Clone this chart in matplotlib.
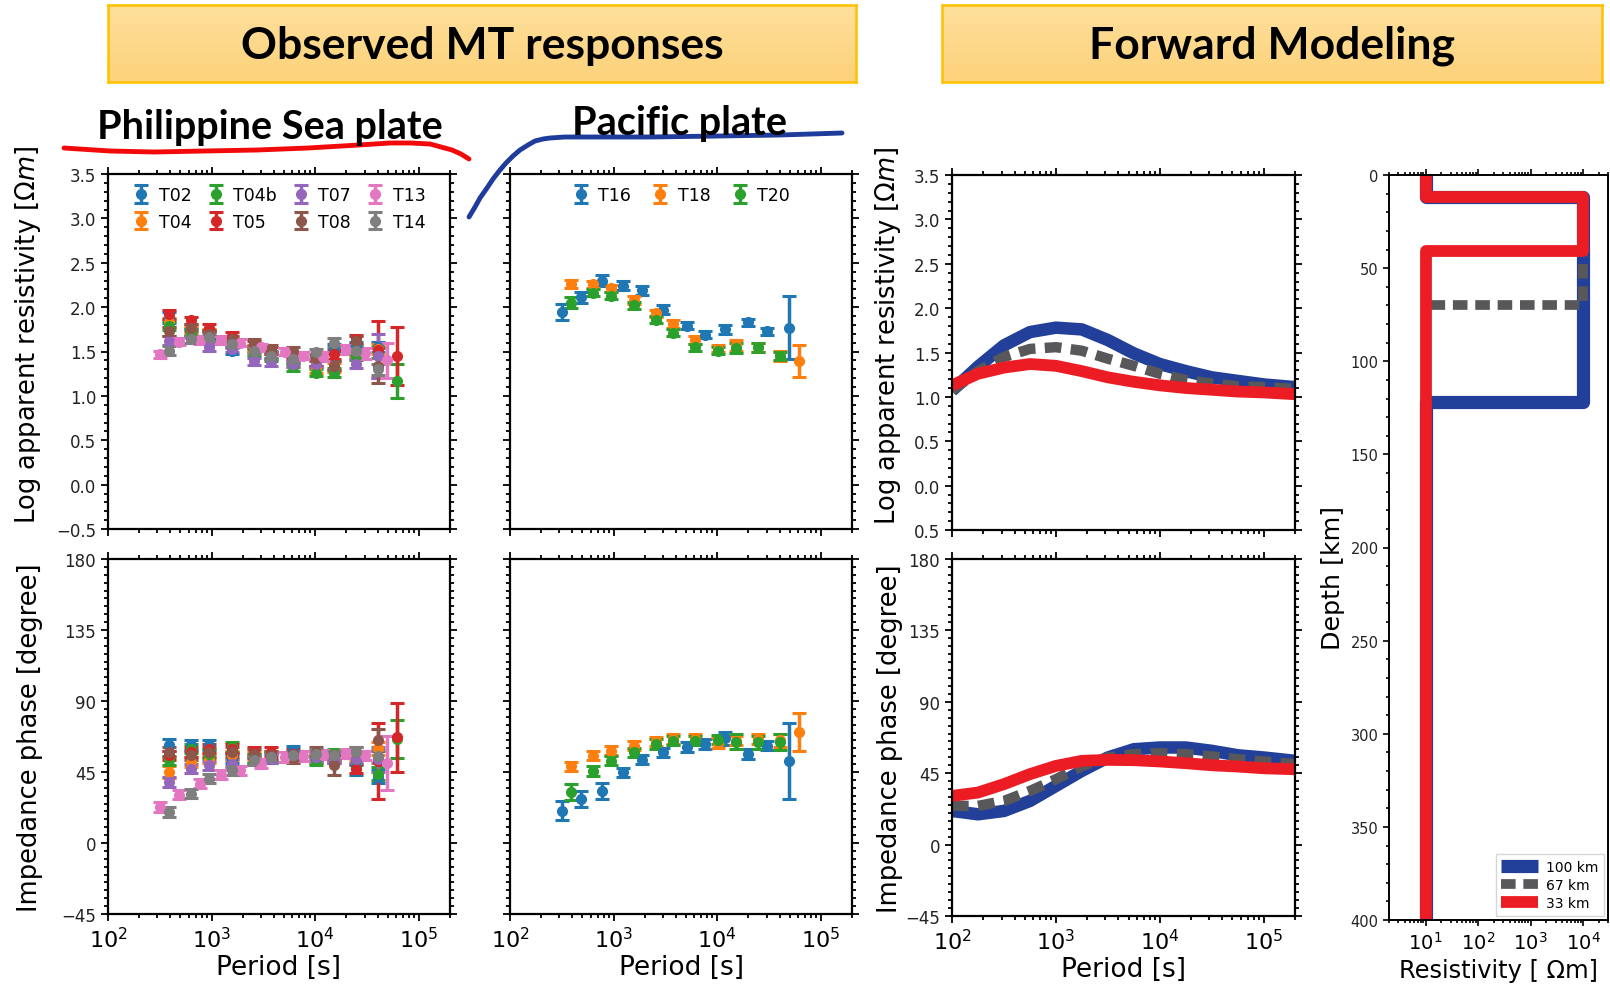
import numpy as np
import matplotlib
matplotlib.use('Agg')
import matplotlib.pyplot as plt
from matplotlib.lines import Line2D
from matplotlib.ticker import MultipleLocator, LogLocator, NullFormatter, FixedLocator, FixedFormatter

# ---- observed MT responses ----
# period sets (s)
periods_a = [316, 480, 770, 1230, 1900, 3000, 5100, 7600, 12000, 20000, 30000, 49000]
periods_b = [390, 630, 950, 1560, 2570, 3750, 6100, 10100, 15100, 24500, 40800, 62000]

psp_stations = ['T02', 'T04', 'T04b', 'T05', 'T07', 'T08', 'T13', 'T14']
psp_periods = {'T02': periods_b[:11], 'T04': periods_b[:11], 'T04b': periods_b,
               'T05': periods_b, 'T07': periods_b[:11], 'T08': periods_b[:11],
               'T13': periods_a, 'T14': periods_b[:11]}

psp_rho = {
    'T02': [1.88, 1.73, 1.68, 1.51, 1.53, 1.47, 1.41, 1.36, 1.53, 1.56, 1.55],
    'T04': [1.83, 1.75, 1.71, 1.62, 1.53, 1.45, 1.36, 1.30, 1.32, 1.49, 1.53],
    'T04b': [1.79, 1.71, 1.70, 1.60, 1.49, 1.43, 1.32, 1.26, 1.26, 1.45, 1.49, 1.17],
    'T05': [1.92, 1.85, 1.77, 1.68, 1.58, 1.51, 1.45, 1.38, 1.47, 1.64, 1.52, 1.45],
    'T07': [1.62, 1.64, 1.55, 1.53, 1.39, 1.38, 1.36, 1.36, 1.34, 1.36, 1.45],
    'T08': [1.73, 1.77, 1.70, 1.64, 1.60, 1.53, 1.51, 1.43, 1.34, 1.62, 1.34],
    'T13': [1.47, 1.61, 1.63, 1.63, 1.60, 1.55, 1.50, 1.45, 1.44, 1.52, 1.48, 1.40],
    'T14': [1.51, 1.64, 1.66, 1.58, 1.51, 1.45, 1.41, 1.49, 1.60, 1.51, 1.30],
}
psp_rho_err = {
    'T02': [0.06, 0.04, 0.04, 0.04, 0.04, 0.04, 0.04, 0.04, 0.05, 0.05, 0.06],
    'T04': [0.05, 0.04, 0.04, 0.04, 0.04, 0.04, 0.04, 0.04, 0.05, 0.05, 0.06],
    'T04b': [0.05, 0.04, 0.04, 0.04, 0.04, 0.04, 0.04, 0.04, 0.05, 0.05, 0.06, 0.19],
    'T05': [0.05, 0.04, 0.04, 0.04, 0.04, 0.04, 0.04, 0.04, 0.05, 0.05, 0.32, 0.33],
    'T07': [0.05, 0.04, 0.04, 0.04, 0.04, 0.04, 0.04, 0.04, 0.05, 0.05, 0.25],
    'T08': [0.05, 0.04, 0.04, 0.04, 0.04, 0.04, 0.04, 0.04, 0.05, 0.05, 0.20],
    'T13': [0.04, 0.04, 0.04, 0.04, 0.04, 0.04, 0.04, 0.04, 0.05, 0.05, 0.06, 0.20],
    'T14': [0.05, 0.04, 0.04, 0.04, 0.04, 0.04, 0.04, 0.04, 0.05, 0.05, 0.06],
}
psp_phase = {
    'T02': [62.0, 62.0, 62.0, 53.5, 53.5, 53.5, 58.7, 53.5, 53.5, 49.0, 42.0],
    'T04': [45.0, 51.3, 53.5, 55.6, 55.6, 54.5, 55.6, 53.5, 54.5, 55.6, 60.0],
    'T04b': [52.4, 59.8, 56.6, 60.8, 53.5, 55.6, 55.6, 52.4, 56.6, 52.4, 43.9, 66.0],
    'T05': [55.6, 57.7, 59.8, 59.8, 57.7, 57.7, 56.6, 55.6, 55.6, 47.1, 52.0, 67.0],
    'T07': [38.7, 47.1, 49.2, 50.3, 52.4, 53.5, 54.5, 54.5, 53.5, 53.5, 53.0],
    'T08': [57.7, 55.6, 57.7, 57.7, 56.6, 55.6, 53.5, 57.7, 49.2, 57.7, 65.0],
    'T13': [22.8, 30.6, 37.6, 43.3, 46.0, 50.3, 54.5, 55.1, 56.0, 56.6, 55.6, 50.9],
    'T14': [19.6, 31.3, 40.8, 46.0, 52.4, 54.5, 55.6, 56.6, 55.6, 57.7, 55.0],
}
psp_phase_err = {
    'T02': [4, 3, 3, 3, 3, 3, 3, 3, 3, 6, 4],
    'T04': [4, 3, 3, 3, 3, 3, 3, 3, 3, 3, 4],
    'T04b': [3, 3, 3, 3, 3, 3, 3, 3, 3, 3, 4, 12],
    'T05': [3, 3, 3, 3, 3, 3, 3, 3, 3, 3, 24, 22],
    'T07': [3, 3, 3, 3, 3, 3, 3, 3, 3, 3, 8],
    'T08': [3, 3, 3, 3, 3, 3, 3, 3, 6, 3, 7],
    'T13': [3, 3, 3, 3, 3, 3, 3, 3, 3, 3, 3, 17],
    'T14': [3, 3, 3, 3, 3, 3, 3, 3, 3, 3, 4],
}

pac_stations = ['T16', 'T18', 'T20']
pac_periods = {'T16': periods_a, 'T18': periods_b, 'T20': periods_b[:11]}
pac_rho = {
    'T16': [1.94, 2.11, 2.30, 2.24, 2.19, 1.97, 1.79, 1.69, 1.75, 1.83, 1.73, 1.77],
    'T18': [2.26, 2.26, 2.21, 2.08, 1.93, 1.81, 1.63, 1.53, 1.57, 1.55, 1.45, 1.39],
    'T20': [2.05, 2.16, 2.13, 2.02, 1.86, 1.71, 1.55, 1.51, 1.54, 1.55, 1.45],
}
pac_rho_err = {
    'T16': [0.09, 0.06, 0.06, 0.05, 0.05, 0.05, 0.04, 0.04, 0.05, 0.04, 0.04, 0.36],
    'T18': [0.05, 0.04, 0.04, 0.04, 0.04, 0.04, 0.04, 0.04, 0.06, 0.05, 0.06, 0.18],
    'T20': [0.06, 0.04, 0.04, 0.04, 0.04, 0.04, 0.04, 0.04, 0.06, 0.05, 0.05],
}
pac_phase = {
    'T16': [20.5, 27.9, 33.2, 44.8, 52.8, 57.5, 60.7, 62.8, 66.4, 56.4, 61.7, 52.2],
    'T18': [48.6, 55.4, 58.5, 61.7, 64.5, 65.9, 65.9, 63.4, 64.9, 65.9, 65.0, 70.6],
    'T20': [32.2, 45.5, 52.2, 57.5, 62.8, 64.9, 64.9, 65.5, 64.3, 63.8, 63.8],
}
pac_phase_err = {
    'T16': [6, 5, 5, 3, 3, 3, 3, 3, 4, 3, 3, 24],
    'T18': [3, 3, 3, 3, 3, 3, 3, 3, 3, 3, 4, 12],
    'T20': [5, 3, 3, 3, 3, 3, 3, 3, 5, 4, 5],
}

# ---- forward modeling ----
fwd_period = 10 ** np.array([2.0, 2.25, 2.5, 2.75, 3.0, 3.25, 3.5, 3.75, 4.0, 4.25, 4.5, 4.75, 5.0, 5.3])
fwd_rho_100 = [1.07, 1.34, 1.58, 1.73, 1.78, 1.76, 1.64, 1.49, 1.37, 1.29, 1.22, 1.18, 1.14, 1.11]
fwd_rho_67 = [1.07, 1.29, 1.45, 1.54, 1.56, 1.52, 1.43, 1.35, 1.26, 1.19, 1.15, 1.12, 1.11, 1.09]
fwd_rho_33 = [1.13, 1.26, 1.33, 1.37, 1.35, 1.29, 1.22, 1.17, 1.13, 1.10, 1.08, 1.06, 1.05, 1.03]
fwd_phase_100 = [21.2, 19.1, 21.2, 27.5, 37.0, 46.5, 54.9, 60.1, 61.2, 61.2, 59.1, 56.3, 54.9, 52.8]
fwd_phase_67 = [24.4, 24.4, 27.5, 33.8, 41.2, 49.6, 54.9, 57.0, 57.6, 57.0, 55.5, 53.8, 52.4, 50.7]
fwd_phase_33 = [30.7, 32.8, 38.1, 44.4, 49.6, 52.8, 53.4, 53.2, 52.4, 51.3, 50.0, 49.2, 48.1, 47.5]

# layered resistivity models: layer top depths (km) and resistivity (ohm-m)
model_tops_100 = [0, 12, 122]
model_tops_67 = [0, 12, 70]
model_tops_33 = [0, 12, 41]
model_res = [10, 1e4, 10]
model_labels = ['100 km', '67 km', '33 km']

c_blue = '#22409a'
c_gray = '#58585a'
c_red = '#ec1c24'

W, H = 1610, 987
fig = plt.figure(figsize=(W / 100, H / 100), dpi=100)


def px_axes(x0, y0, x1, y1):
    # pixel box measured from the top-left corner
    return fig.add_axes([x0 / W, 1 - y1 / H, (x1 - x0) / W, (y1 - y0) / H])


def style_axes(ax, ylim, ymajor, yminor, log_x=True):
    for s in ax.spines.values():
        s.set_linewidth(1.6)
    if log_x:
        ax.set_xscale('log')
        ax.set_xlim(1e2, 2e5)
        ax.xaxis.set_major_locator(LogLocator(base=10, numticks=10))
        ax.xaxis.set_minor_locator(LogLocator(base=10, subs=np.arange(2, 10), numticks=20))
        ax.xaxis.set_minor_formatter(NullFormatter())
    ax.set_ylim(*ylim)
    ax.yaxis.set_major_locator(MultipleLocator(ymajor))
    ax.yaxis.set_minor_locator(MultipleLocator(yminor))
    ax.tick_params(which='both', direction='out', top=True, right=True, width=1.3)
    ax.tick_params(which='major', length=5)
    ax.tick_params(which='minor', length=3)
    ax.tick_params(axis='y', labelsize=12, labelcolor='#222222')
    ax.tick_params(axis='x', labelsize=16)


eb_kw = dict(fmt='o', ms=7, capsize=5, capthick=2.2, elinewidth=2.5)

# observed, Philippine Sea plate
ax1 = px_axes(108, 175, 450, 530)
ax2 = px_axes(108, 560, 450, 915)
for i, st in enumerate(psp_stations):
    ax1.errorbar(psp_periods[st], psp_rho[st], yerr=psp_rho_err[st], color='C%d' % i, label=st, **eb_kw)
    ax2.errorbar(psp_periods[st], psp_phase[st], yerr=psp_phase_err[st], color='C%d' % i, **eb_kw)

# observed, Pacific plate
ax3 = px_axes(510, 175, 852, 530)
ax4 = px_axes(510, 560, 852, 915)
for i, st in enumerate(pac_stations):
    ax3.errorbar(pac_periods[st], pac_rho[st], yerr=pac_rho_err[st], color='C%d' % i, label=st, **eb_kw)
    ax4.errorbar(pac_periods[st], pac_phase[st], yerr=pac_phase_err[st], color='C%d' % i, **eb_kw)

for ax in (ax1, ax3):
    style_axes(ax, (-0.5, 3.5), 0.5, 0.1)
    ax.tick_params(axis='x', labelbottom=False)
for ax in (ax2, ax4):
    style_axes(ax, (-45, 180), 45, 5)
    ax.set_xlabel('Period [s]', fontsize=19)
    ax.xaxis.set_label_coords(0.5, -0.113)
for ax in (ax3, ax4):
    ax.tick_params(axis='y', labelleft=False)

ax1.set_ylabel(r'Log apparent resistivity [$\Omega m$]', fontsize=18.5)
ax1.yaxis.set_label_coords(-0.19, 0.55)
ax2.set_ylabel('Impedance phase [degree]', fontsize=18.5)
ax2.yaxis.set_label_coords(-0.19, 0.5)

ax1.legend(ncol=4, loc='upper center', frameon=False, fontsize=12.5, handlelength=1.0,
           handletextpad=0.5, columnspacing=0.9, borderaxespad=0.3, labelspacing=0.5)
ax3.legend(ncol=3, loc='upper center', frameon=False, fontsize=12.5, handlelength=1.0,
           handletextpad=0.5, columnspacing=1.2, borderaxespad=0.3)

# forward modeling responses
ax5 = px_axes(952, 176, 1295, 531)
ax6 = px_axes(952, 560, 1295, 917)
ax5.plot(fwd_period, fwd_rho_100, color=c_blue, lw=9, solid_capstyle='butt')
ax5.plot(fwd_period, fwd_rho_67, color=c_gray, lw=7.5, dashes=(1.6, 0.9))
ax5.plot(fwd_period, fwd_rho_33, color=c_red, lw=8.5, solid_capstyle='butt')
ax6.plot(fwd_period, fwd_phase_100, color=c_blue, lw=9, solid_capstyle='butt')
ax6.plot(fwd_period, fwd_phase_67, color=c_gray, lw=7.5, dashes=(1.6, 0.9))
ax6.plot(fwd_period, fwd_phase_33, color=c_red, lw=8.5, solid_capstyle='butt')

style_axes(ax5, (-0.5, 3.5), 0.5, 0.1)
ax5.tick_params(axis='x', labelbottom=False)
ax5.yaxis.set_major_locator(FixedLocator([-0.5, 0, 0.5, 1.0, 1.5, 2.0, 2.5, 3.0, 3.5]))
ax5.yaxis.set_major_formatter(FixedFormatter(['0.5', '0.0', '0.5', '1.0', '1.5', '2.0', '2.5', '3.0', '3.5']))
ax5.set_ylabel(r'Log apparent resistivity [$\Omega m$]', fontsize=18.5)
ax5.yaxis.set_label_coords(-0.143, 0.55)
style_axes(ax6, (-45, 180), 45, 5)
ax6.set_xlabel('Period [s]', fontsize=19)
ax6.xaxis.set_label_coords(0.5, -0.113)
ax6.set_ylabel('Impedance phase [degree]', fontsize=18.5)
ax6.yaxis.set_label_coords(-0.143, 0.5)

# resistivity-depth models
ax7 = px_axes(1389, 176, 1608, 921)


def step_profile(tops, res, bottom=400):
    d, r = [], []
    edges = list(tops) + [bottom]
    for k, rv in enumerate(res):
        d += [edges[k], edges[k + 1]]
        r += [rv, rv]
    return r, d


r, d = step_profile(model_tops_100, model_res)
ax7.plot(r, d, color=c_blue, lw=9.5, solid_joinstyle='round', solid_capstyle='butt', label=model_labels[0])
r, d = step_profile(model_tops_67, model_res)
ax7.plot(r, d, color=c_gray, lw=7, dashes=(1.5, 0.8), label=model_labels[1])
r, d = step_profile(model_tops_33, model_res)
ax7.plot(r, d, color=c_red, lw=8.5, solid_joinstyle='round', solid_capstyle='butt', label=model_labels[2])

ax7.set_xscale('log')
ax7.set_xlim(2, 3e4)
ax7.set_ylim(400, 0)
ax7.xaxis.set_major_locator(FixedLocator([10, 100, 1000, 10000]))
ax7.xaxis.set_minor_locator(LogLocator(base=10, subs=np.arange(2, 10), numticks=20))
ax7.xaxis.set_minor_formatter(NullFormatter())
ax7.yaxis.set_major_locator(MultipleLocator(50))
ax7.yaxis.set_minor_locator(MultipleLocator(10))
for s in ax7.spines.values():
    s.set_linewidth(1.4)
ax7.tick_params(which='both', direction='out', top=True, width=1.2)
ax7.tick_params(which='major', length=4)
ax7.tick_params(which='minor', length=2.5)
ax7.tick_params(axis='y', labelsize=10.5, labelcolor='#222222')
ax7.tick_params(axis='x', labelsize=14)
ax7.set_ylabel('Depth [km]', fontsize=18.3)
ax7.yaxis.set_label_coords(-0.2, 0.46)
ax7.set_xlabel('Resistivity [ \u03a9m]', fontsize=17.4)
ax7.xaxis.set_label_coords(0.5, -0.051)
ax7.legend(loc='lower right', fontsize=10, handlelength=2.6, handletextpad=0.6,
           borderaxespad=0.3, labelspacing=0.3, fancybox=False)

# header boxes
grad = np.linspace(0, 1, 50).reshape(-1, 1)
for (x0, x1, title) in [(108, 856, 'Observed MT responses'), (942, 1602, 'Forward Modeling')]:
    hb = px_axes(x0, 6, x1, 83)
    top = np.array([254, 223, 156]) / 255
    bot = np.array([252, 210, 122]) / 255
    img = top[None, None, :] * (1 - grad[:, :, None]) + bot[None, None, :] * grad[:, :, None]
    hb.imshow(img, aspect='auto', extent=[0, 1, 0, 1])
    hb.set_xticks([])
    hb.set_yticks([])
    for s in hb.spines.values():
        s.set_color('#ffc000')
        s.set_linewidth(1.8)
    hb.text(0.5, 0.48, title, ha='center', va='center', fontsize=32,
            fontweight='bold', family='Lato', transform=hb.transAxes)

fig.text(270 / W, 1 - 127 / H, 'Philippine Sea plate', ha='center', va='center',
         fontsize=28.5, fontweight='bold', family='Lato')
fig.text(679 / W, 1 - 123 / H, 'Pacific plate', ha='center', va='center',
         fontsize=28.5, fontweight='bold', family='Lato')

# hand-drawn underlines
red_stroke_x = [64, 110, 154, 205, 257, 308, 359, 390, 411, 430, 441, 452, 461, 469]
red_stroke_y = [149, 152, 153, 152, 151, 149, 146, 144, 144, 145, 148, 151, 155, 160]
blue_stroke_x = [469, 475, 480, 487, 493, 500, 506, 513, 520, 528, 535, 543, 550, 565, 580, 650, 720, 780, 842]
blue_stroke_y = [218, 208, 199, 189, 180, 171, 164, 157, 151, 146, 142, 140, 139, 138, 138, 138, 137, 136, 134]
fig.add_artist(Line2D(np.array(red_stroke_x) / W, 1 - np.array(red_stroke_y) / H,
                      color='#f20a0a', lw=3.5, solid_capstyle='round'))
fig.add_artist(Line2D(np.array(blue_stroke_x) / W, 1 - np.array(blue_stroke_y) / H,
                      color='#1f3c9c', lw=3.5, solid_capstyle='round'))

fig.savefig('out.png', dpi=100)
